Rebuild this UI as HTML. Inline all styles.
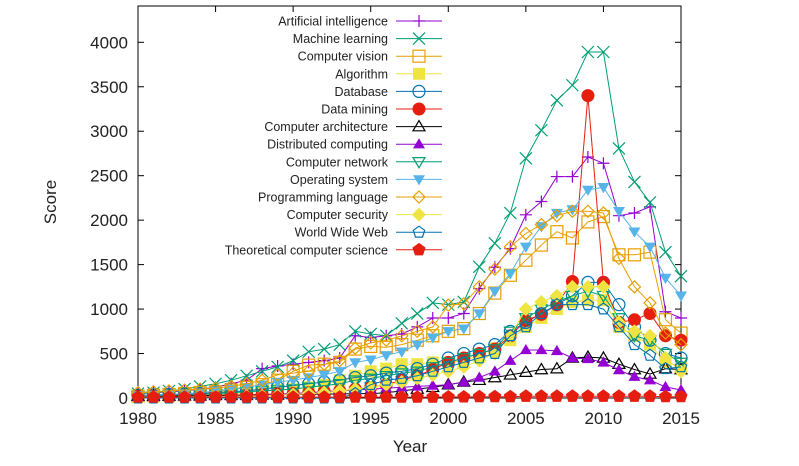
<!DOCTYPE html>
<html><head><meta charset="utf-8"><style>
html,body{margin:0;padding:0;background:#fff;}
svg{display:block;font-family:"Liberation Sans",sans-serif;}
</style></head><body>
<svg id="chart" width="799" height="466"></svg>
<script>
const years = [1980,1981,1982,1983,1984,1985,1986,1987,1988,1989,1990,1991,1992,1993,1994,1995,1996,1997,1998,1999,2000,2001,2002,2003,2004,2005,2006,2007,2008,2009,2010,2011,2012,2013,2014,2015];
const yTicks = [0,500,1000,1500,2000,2500,3000,3500,4000];
const xTicks = [1980,1985,1990,1995,2000,2005,2010,2015];
const seriesNames = ["Artificial intelligence","Machine learning","Computer vision","Algorithm","Database","Data mining","Computer architecture","Distributed computing","Computer network","Operating system","Programming language","Computer security","World Wide Web","Theoretical computer science"];
const aiVals = [50,60,70,80,100,120,160,200,330,360,380,400,420,450,700,680,700,720,800,900,900,950,1230,1470,1680,2060,2210,2490,2490,2710,2640,2050,2080,2150,970,900];
const mlVals = [50,60,80,100,130,160,200,250,300,350,420,520,550,600,750,720,700,840,950,1070,1050,1080,1475,1740,2080,2695,3011,3348,3517,3891,3891,2806,2430,2200,1640,1370];
const cvVals = [20,30,40,50,60,70,90,120,150,200,300,370,380,400,550,580,570,600,650,700,750,780,950,1180,1380,1550,1720,1870,1800,1980,2040,1610,1610,1640,880,730];
const algVals = [10,15,20,25,30,40,50,60,80,90,100,120,150,200,250,300,330,380,380,400,400,420,480,560,650,800,900,1000,1080,1100,1100,800,700,600,400,350];
const dbVals = [30,35,40,45,50,60,70,80,100,120,140,160,180,200,230,250,280,300,330,380,450,500,550,600,750,850,950,1050,1150,1300,1300,1050,800,650,500,450];
const dmVals = [20,20,20,25,25,30,30,35,40,45,50,60,70,80,100,120,150,200,250,320,400,450,500,550,700,870,940,1050,1310,3400,1300,850,880,950,700,650];
const caVals = [20,20,20,25,25,30,30,30,35,35,40,40,45,45,50,50,60,80,100,120,150,180,200,230,260,290,320,330,450,460,450,380,320,270,330,320];
const dcVals = [10,10,10,15,15,20,20,25,30,40,50,60,70,80,90,100,110,120,130,140,150,180,230,300,420,540,540,530,450,440,400,315,240,200,125,90];
const cnVals = [20,25,30,35,40,50,60,70,80,90,100,120,140,160,200,220,250,280,300,350,400,450,500,550,750,900,1000,1080,1150,1200,1150,900,700,650,500,400];
const osVals = [30,35,40,50,60,80,100,120,150,180,200,230,260,300,400,430,480,520,600,680,750,780,950,1200,1400,1700,1930,2080,2120,2340,2370,2100,1870,1700,1350,1150];
const plVals = [60,70,80,90,100,110,130,160,200,260,280,300,380,420,560,620,650,700,750,800,1045,1060,1250,1450,1700,1850,1950,2050,2100,2100,2080,1570,1250,1070,730,600];
const csVals = [10,10,10,10,15,15,20,20,25,30,40,50,60,80,100,120,150,180,220,260,300,350,420,500,700,1000,1080,1150,1250,1250,1250,850,750,700,450,300];
const wwwVals = [0,0,0,0,0,0,0,0,0,0,0,0,0,0,50,150,200,220,250,300,350,400,450,500,700,800,950,1050,1050,1050,1000,800,600,480,330,350];
const tcsVals = [10,10,10,10,10,10,10,10,10,10,10,10,10,10,10,10,10,10,10,10,12,12,15,15,15,20,20,20,20,20,20,20,20,20,15,15];

const NS="http://www.w3.org/2000/svg";
const svg=document.getElementById('chart');
const L=138,R=681,T=6,B=398;
function xs(y){return L+(y-1980)/35*(R-L);}
function ys(v){return B-v/4000*(B-42.3);}
function mk(tag,attrs,parent){const e=document.createElementNS(NS,tag);for(const k in attrs)e.setAttribute(k,attrs[k]);(parent||svg).appendChild(e);return e;}

const frame=mk('rect',{x:L,y:T,width:R-L,height:B-T,fill:'none',stroke:'#000','stroke-width':1});



yTicks.forEach(v=>{
  const y=ys(v);
  const t1=mk('line',{x1:L,x2:L+6,y1:y,y2:y,stroke:'#000'});
  
  
  const t2=mk('line',{x1:R-6,x2:R,y1:y,y2:y,stroke:'#000'});
  
  
  const tx=mk('text',{x:128,y:y+6,'text-anchor':'end','font-size':17,fill:'#222'});
  tx.textContent=v;
  
  
});
xTicks.forEach(v=>{
  const x=xs(v);
  const t1=mk('line',{x1:x,x2:x,y1:B,y2:B-6,stroke:'#000'});
  
  
  const t2=mk('line',{x1:x,x2:x,y1:T,y2:T+6,stroke:'#000'});
  
  
  const tx=mk('text',{x:x,y:424,'text-anchor':'middle','font-size':17,fill:'#222'});
  tx.textContent=v;
  
  
});
const xt=mk('text',{x:410,y:452,'text-anchor':'middle','font-size':17,fill:'#222'});
xt.textContent='Year';


const yt=mk('text',{x:0,y:0,'text-anchor':'middle','font-size':17,fill:'#222',transform:'translate(56,202) rotate(-90)'});
yt.textContent='Score';



function marker(g,type,x,y,c){
  const s=6;
  switch(type){
    case 'plus': mk('path',{d:`M${x-s} ${y}H${x+s}M${x} ${y-s}V${y+s}`,stroke:c,'stroke-width':1.2,fill:'none'},g);break;
    case 'x': mk('path',{d:`M${x-s} ${y-s}L${x+s} ${y+s}M${x-s} ${y+s}L${x+s} ${y-s}`,stroke:c,'stroke-width':1.2,fill:'none'},g);break;
    case 'sq': mk('rect',{x:x-s,y:y-s,width:2*s,height:2*s,stroke:c,fill:'none','stroke-width':1.2},g);break;
    case 'sqf': mk('rect',{x:x-s,y:y-s,width:2*s,height:2*s,fill:c},g);break;
    case 'circ': mk('circle',{cx:x,cy:y,r:s,stroke:c,fill:'none','stroke-width':1.2},g);break;
    case 'circf': mk('circle',{cx:x,cy:y,r:s+0.5,fill:c},g);break;
    case 'tri': mk('path',{d:`M${x} ${y-s}L${x+s} ${y+s*0.7}L${x-s} ${y+s*0.7}Z`,stroke:c,fill:'none','stroke-width':1.2},g);break;
    case 'trif': mk('path',{d:`M${x} ${y-s}L${x+s} ${y+s*0.7}L${x-s} ${y+s*0.7}Z`,fill:c},g);break;
    case 'dtri': mk('path',{d:`M${x} ${y+s}L${x+s} ${y-s*0.7}L${x-s} ${y-s*0.7}Z`,stroke:c,fill:'none','stroke-width':1.2},g);break;
    case 'dtrif': mk('path',{d:`M${x} ${y+s}L${x+s} ${y-s*0.7}L${x-s} ${y-s*0.7}Z`,fill:c},g);break;
    case 'dia': mk('path',{d:`M${x} ${y-s}L${x+s} ${y}L${x} ${y+s}L${x-s} ${y}Z`,stroke:c,fill:'none','stroke-width':1.2},g);break;
    case 'diaf': mk('path',{d:`M${x} ${y-s-1}L${x+s+1} ${y}L${x} ${y+s+1}L${x-s-1} ${y}Z`,fill:c},g);break;
    case 'pent': case 'pentf': {
      let p=[];for(let i=0;i<5;i++){const a=-Math.PI/2+i*2*Math.PI/5;p.push((x+s*Math.cos(a)).toFixed(1)+','+(y+s*Math.sin(a)).toFixed(1));}
      if(type==='pent')mk('polygon',{points:p.join(' '),stroke:c,fill:'none','stroke-width':1.2},g);
      else mk('polygon',{points:p.join(' '),fill:c,transform:`translate(${x},${y}) scale(1.15) translate(${-x},${-y})`},g);
      break;}
  }
}
const series=[
  [aiVals,'#9400d3','plus'],[mlVals,'#009e73','x'],[cvVals,'#e69f00','sq'],[algVals,'#f0e442','sqf'],
  [dbVals,'#0072b2','circ'],[dmVals,'#e51e10','circf'],[caVals,'#000000','tri'],[dcVals,'#9400d3','trif'],
  [cnVals,'#009e73','dtri'],[osVals,'#56b4e9','dtrif'],[plVals,'#e69f00','dia'],[csVals,'#f0e442','diaf'],
  [wwwVals,'#0072b2','pent'],[tcsVals,'#e51e10','pentf']
];
const slug=n=>n.toLowerCase().replace(/\s+/g,'-');
series.forEach((s,i)=>{
  const [vals,c,m]=s;
  const g=mk('g',{});
  
  
  const d=vals.map((v,j)=>(j?'L':'M')+xs(years[j]).toFixed(1)+' '+ys(v).toFixed(1)).join('');
  mk('path',{d:d,stroke:c,fill:'none','stroke-width':1},g);
  vals.forEach((v,j)=>marker(g,m,xs(years[j]),ys(v),c));
  // legend
  const ly=21+i*17.6;
  const lg=mk('g',{});
  
  
  const t=mk('text',{x:388,y:ly+4.5,'text-anchor':'end','font-size':12.5,fill:'#222'},lg);
  t.textContent=seriesNames[i];
  mk('line',{x1:396,x2:442,y1:ly,y2:ly,stroke:c,'stroke-width':1},lg);
  marker(lg,m,419,ly,c);
});
</script>
</body></html>
